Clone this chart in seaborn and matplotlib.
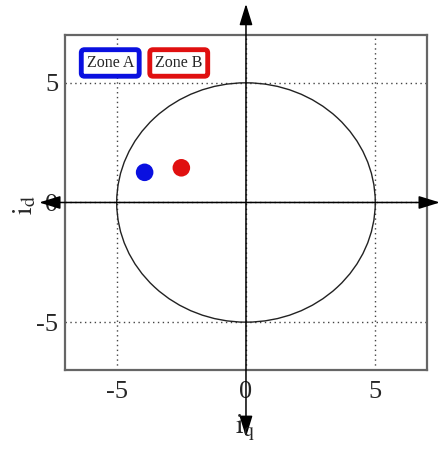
import matplotlib
matplotlib.use("Agg")
import matplotlib.pyplot as plt
from matplotlib.patches import Circle
import seaborn as sns
import pandas as pd

# Operating points in the (i_q, i_d) plane
zones = ["Zone A", "Zone B"]
iq_vals = [-3.92, -2.5]
id_vals = [1.26, 1.45]
zone_colors = ["#0a10e0", "#e01010"]

ticks = [-5, 0, 5]
tick_labels = ["-5", "0", "5"]
limit_radius = 5

sns.set_style("white")
plt.rcParams["font.family"] = ["Liberation Serif", "DejaVu Serif"]
plt.rcParams["mathtext.fontset"] = "stix"

df = pd.DataFrame({"iq": iq_vals, "id": id_vals, "zone": zones})

fig = plt.figure(figsize=(4.4, 4.54), dpi=100)
ax = fig.add_axes([0.1477, 0.185, 0.8227, 0.738])

ax.set_xlim(-7, 7)
ax.set_ylim(-7, 7)

# current limit circle
ax.add_patch(Circle((0, 0), limit_radius, fill=False, edgecolor="#222222",
                    lw=1.0, zorder=2))

sns.scatterplot(data=df, x="iq", y="id", hue="zone", palette=zone_colors,
                s=160, edgecolor="none", legend=False, ax=ax, zorder=4)

ax.set_xticks(ticks)
ax.set_yticks(ticks)
ax.set_xticklabels(tick_labels, fontsize=19)
ax.set_yticklabels(tick_labels, fontsize=19)
ax.tick_params(direction="in", length=4, width=1, color="#555555",
               pad=5)
ax.tick_params(axis="x", pad=8)
ax.grid(True, linestyle=(0, (1, 2.5)), color="#444444", lw=1.0)
for sp in ax.spines.values():
    sp.set_color("#666666")
    sp.set_linewidth(1.6)
ax.set_xlabel("")
ax.set_ylabel("")

# coordinate axes with arrowheads
arrow_kw = dict(arrowstyle="<|-|>,head_length=1.3,head_width=0.4",
                lw=1.1, color="black", shrinkA=0, shrinkB=0,
                mutation_scale=10)
ax.annotate("", xy=(0, 8.3), xytext=(0, -9.8), arrowprops=arrow_kw,
            annotation_clip=False, zorder=5)
ax.annotate("", xy=(7.5, 0), xytext=(-8.0, 0), arrowprops=arrow_kw,
            annotation_clip=False, zorder=5)

# zone tags
for name, col, xpos in zip(zones, zone_colors, [-5.25, -2.6]):
    ax.text(xpos, 5.83, name, fontsize=11.5, ha="center", va="center",
            zorder=6,
            bbox=dict(boxstyle="round,pad=0.33,rounding_size=0.2",
                      facecolor="white", edgecolor=col, lw=3.5))

fig.text(25 / 440, 1 - 205 / 454, r"$\mathrm{i}_{\mathrm{d}}$", fontsize=20,
         rotation=90, ha="center", va="center")
fig.text(245 / 440, 1 - 428 / 454, r"$\mathrm{i}_{\mathrm{q}}$", fontsize=20,
         ha="center", va="center")

fig.savefig("out.png", dpi=100)
